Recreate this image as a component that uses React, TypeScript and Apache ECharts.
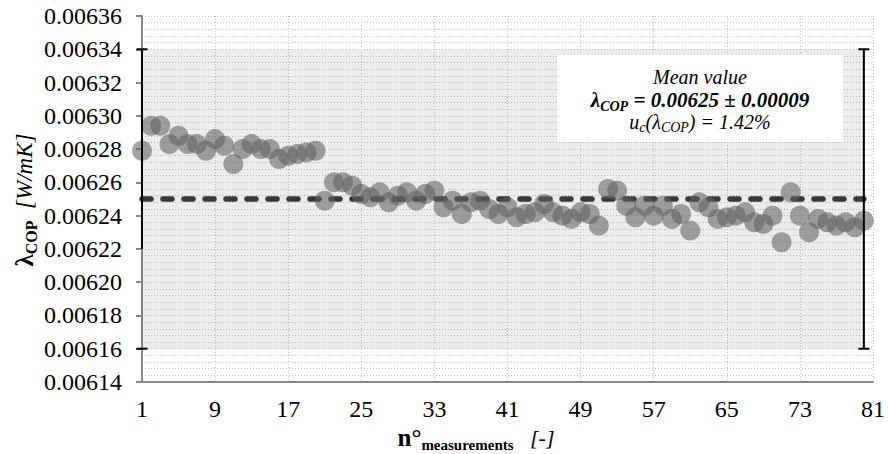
import React, { useEffect, useRef } from "react";
import * as echarts from "echarts";

// ---- data ----
const measurementLabels: string[] = Array.from({ length: 81 }, (_, i) => String(i + 1));

const lambdaValues: number[] = [
  0.006279, 0.006294, 0.006294, 0.006283, 0.006288, 0.006283, 0.006283, 0.006279, 0.006286, 0.006282,
  0.006271, 0.00628, 0.006283, 0.00628, 0.00628, 0.006274, 0.006276, 0.006277, 0.006278, 0.006279,
  0.006249, 0.00626, 0.00626, 0.006258, 0.006253, 0.006251, 0.006254, 0.006248, 0.006252, 0.006254,
  0.006249, 0.006253, 0.006255, 0.006245, 0.006249, 0.006241, 0.006248, 0.006249, 0.006244, 0.006241,
  0.006245, 0.006239, 0.006241, 0.006242, 0.006247, 0.006242, 0.00624, 0.006238, 0.006242, 0.006241,
  0.006234, 0.006256, 0.006255, 0.006246, 0.006239, 0.006246, 0.00624, 0.006246, 0.006238, 0.006241,
  0.006231, 0.006248, 0.006245, 0.006238, 0.006239, 0.00624, 0.006242, 0.006236, 0.006235, 0.00624,
  0.006224, 0.006254, 0.00624, 0.00623, 0.006238, 0.006236, 0.006234, 0.006236, 0.006233, 0.006237,
];

const meanValue = 0.00625;
const expandedUncertainty = 0.00009;
const relativeUncertaintyText = "1.42%";
const bandLow = 0.00616;
const bandHigh = 0.00634;
const meanLineRange: string[] = ["1", "80"];

// error bars: [x category, low, high, lower end of drawn vertical line]
const errorBars: (string | number)[][] = [
  ["1", 0.00616, 0.00634, 0.00622],
  ["80", 0.00616, 0.00634, 0.00616],
];

const yMin = 0.00614;
const yMax = 0.00636;
const yInterval = 0.00002;

const SERIF = "Times New Roman";

export default function App() {
  const ref = useRef<HTMLDivElement>(null);

  useEffect(() => {
    if (!ref.current) return;
    const chart = echarts.init(ref.current, undefined, { renderer: "svg" });

    const gridColor = "#c4c4c4";
    const axisColor = "#878787";

    const option: any = {
      animation: false,
      backgroundColor: "#ffffff",
      textStyle: { fontFamily: SERIF },
      grid: { left: 142, right: 10, top: 16, bottom: 72 },
      xAxis: {
        type: "category",
        data: measurementLabels,
        boundaryGap: false,
        axisLine: { show: true, lineStyle: { color: axisColor, width: 2 } },
        axisTick: { show: false },
        axisLabel: {
          interval: 7,
          color: "#000",
          fontSize: 24,
          fontFamily: SERIF,
          margin: 15,
        },
        splitLine: {
          show: true,
          interval: 7,
          lineStyle: { color: gridColor, width: 1, type: [1, 2] },
        },
      },
      yAxis: {
        type: "value",
        min: yMin,
        max: yMax,
        interval: yInterval,
        axisLine: { show: true, onZero: false, lineStyle: { color: axisColor, width: 2 } },
        axisTick: { show: true, inside: false, length: 6, lineStyle: { color: axisColor, width: 2 } },
        axisLabel: {
          color: "#000",
          fontSize: 24,
          fontFamily: SERIF,
          margin: 20,
          formatter: (v: number) => v.toFixed(5),
        },
        splitLine: { show: true, lineStyle: { color: gridColor, width: 1, type: [1, 2] } },
        minorTick: { show: false, splitNumber: 5 },
        minorSplitLine: { show: true, lineStyle: { color: gridColor, width: 1, type: [1, 2] } },
      },
      series: [
        {
          name: "mean",
          type: "line",
          data: meanLineRange.map((c) => [c, meanValue]),
          symbol: "none",
          z: 2,
          lineStyle: { color: "#383838", width: 5.5, type: [9, 12], cap: "round" },
          silent: true,
          markArea: {
            silent: true,
            itemStyle: { color: "rgba(0,0,0,0.075)" },
            data: [[{ xAxis: meanLineRange[0], yAxis: bandLow }, { xAxis: meanLineRange[1], yAxis: bandHigh }]],
          },
        },
        {
          name: "lambda",
          type: "scatter",
          data: lambdaValues,
          symbol: "circle",
          symbolSize: 20,
          z: 3,
          itemStyle: { color: "rgba(98,98,98,0.72)" },
        },
        {
          name: "errorbars",
          type: "custom",
          z: 4,
          clip: false,
          silent: true,
          data: errorBars,
          encode: { x: 0, y: [1, 2, 3] },
          renderItem: (params: any, api: any) => {
            const x = api.value(0);
            const lo = api.value(1);
            const hi = api.value(2);
            const lineLo = api.value(3);
            const pHi = api.coord([x, hi]);
            const pLo = api.coord([x, lo]);
            const pLineLo = api.coord([x, lineLo]);
            const cap = 5.5;
            const st = { stroke: "#000", lineWidth: 2 };
            return {
              type: "group",
              children: [
                { type: "line", shape: { x1: pHi[0], y1: pHi[1], x2: pLineLo[0], y2: pLineLo[1] }, style: st },
                { type: "line", shape: { x1: pHi[0] - cap, y1: pHi[1], x2: pHi[0] + cap, y2: pHi[1] }, style: st },
                { type: "line", shape: { x1: pLo[0] - cap, y1: pLo[1], x2: pLo[0] + cap, y2: pLo[1] }, style: st },
              ],
            };
          },
        },
      ],
      graphic: [
        {
          type: "rect",
          shape: { x: 557, y: 55, width: 286, height: 87 },
          style: { fill: "#ffffff" },
          z: 10,
        },
        {
          type: "text",
          x: 700,
          y: 77,
          z: 11,
          style: {
            text: "Mean value",
            fontFamily: SERIF,
            fontStyle: "italic",
            fontSize: 20,
            fill: "#000",
            align: "center",
            verticalAlign: "middle",
          },
        },
        {
          type: "text",
          x: 700,
          y: 100,
          z: 11,
          style: {
            text: `{m|λ}{s|COP}{m| = ${meanValue.toFixed(5)} ± ${expandedUncertainty.toFixed(5)}}`,
            fontFamily: SERIF,
            align: "center",
            verticalAlign: "middle",
            rich: {
              m: { fontFamily: SERIF, fontStyle: "italic", fontWeight: "bold", fontSize: 21, lineHeight: 26, verticalAlign: "middle", fill: "#000" },
              s: { fontFamily: SERIF, fontStyle: "italic", fontWeight: "bold", fontSize: 14, lineHeight: 14, verticalAlign: "bottom", fill: "#000" },
            },
          },
        },
        {
          type: "text",
          x: 700,
          y: 122,
          z: 11,
          style: {
            text: `{m|u}{s|c}{m|(λ}{s|COP}{m|) = ${relativeUncertaintyText}}`,
            fontFamily: SERIF,
            align: "center",
            verticalAlign: "middle",
            rich: {
              m: { fontFamily: SERIF, fontStyle: "italic", fontSize: 20, lineHeight: 24, verticalAlign: "middle", fill: "#000" },
              s: { fontFamily: SERIF, fontStyle: "italic", fontSize: 14, lineHeight: 14, verticalAlign: "bottom", fill: "#000" },
            },
          },
        },
        {
          type: "text",
          x: 24,
          y: 200,
          rotation: Math.PI / 2,
          z: 11,
          style: {
            text: "{l|λ}{s|COP}{u|  [W/mK]}",
            fontFamily: SERIF,
            align: "center",
            verticalAlign: "middle",
            rich: {
              l: { fontFamily: SERIF, fontWeight: "bold", fontSize: 25, lineHeight: 30, verticalAlign: "middle", fill: "#000" },
              s: { fontFamily: SERIF, fontWeight: "bold", fontSize: 16, lineHeight: 16, verticalAlign: "bottom", fill: "#000" },
              u: { fontFamily: SERIF, fontStyle: "italic", fontSize: 23, lineHeight: 30, verticalAlign: "middle", fill: "#000" },
            },
          },
        },
        {
          type: "text",
          x: 476,
          y: 437,
          z: 11,
          style: {
            text: "{n|n°}{s|measurements}{u|   [-]}",
            fontFamily: SERIF,
            align: "center",
            verticalAlign: "middle",
            rich: {
              n: { fontFamily: SERIF, fontWeight: "bold", fontSize: 25, lineHeight: 30, verticalAlign: "middle", fill: "#000" },
              s: { fontFamily: SERIF, fontWeight: "bold", fontSize: 15, lineHeight: 15, verticalAlign: "bottom", fill: "#000" },
              u: { fontFamily: SERIF, fontStyle: "italic", fontSize: 22, lineHeight: 30, verticalAlign: "middle", fill: "#000" },
            },
          },
        },
      ],
    };

    chart.setOption(option);
    return () => chart.dispose();
  }, []);

  return (
    <>
      <style>{`.lambda-chart svg text, .lambda-chart svg tspan { font-family: "Liberation Serif", "Times New Roman", serif !important; }`}</style>
      <div
        ref={ref}
        className="lambda-chart"
        style={{ width: 888, height: 454, position: "absolute", left: 0, top: 0 }}
      />
    </>
  );
}
